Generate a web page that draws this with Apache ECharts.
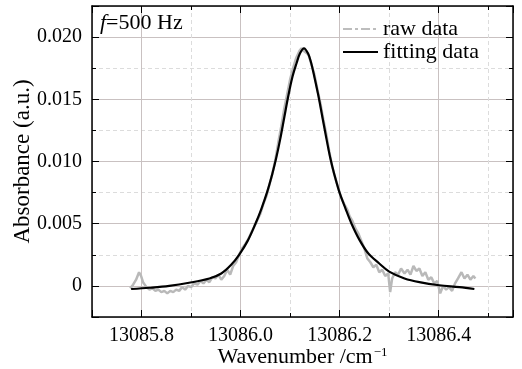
<!DOCTYPE html>
<html>
<head>
<meta charset="UTF-8" />
<title>Absorbance f=500 Hz</title>
<script src="https://cdn.jsdelivr.net/npm/echarts@6/dist/echarts.min.js"></script>
<style>
  html, body { margin: 0; padding: 0; background: #fff; }
  #main { width: 522px; height: 369px; }
</style>
</head>
<body>
<div id="main"></div>
<script>
var rawX = [
  13085.777, 13085.783, 13085.789, 13085.795, 13085.799, 13085.803, 13085.810, 13085.816, 13085.822, 13085.828,
  13085.834, 13085.840, 13085.846, 13085.852, 13085.858, 13085.864, 13085.870, 13085.876, 13085.882, 13085.888,
  13085.894, 13085.900, 13085.906, 13085.913, 13085.919, 13085.925, 13085.931, 13085.937, 13085.943, 13085.949,
  13085.955, 13085.961, 13085.967, 13085.973, 13085.979, 13085.985, 13085.991, 13085.997, 13086.003, 13086.010,
  13086.016, 13086.022, 13086.028, 13086.034, 13086.040, 13086.046, 13086.052, 13086.058, 13086.064, 13086.070,
  13086.076, 13086.082, 13086.088, 13086.094, 13086.100, 13086.106, 13086.112, 13086.119, 13086.123, 13086.127,
  13086.131, 13086.137, 13086.143, 13086.149, 13086.155, 13086.161, 13086.167, 13086.173, 13086.179, 13086.185,
  13086.191, 13086.197, 13086.203, 13086.209, 13086.216, 13086.220, 13086.226, 13086.232, 13086.238, 13086.244,
  13086.250, 13086.256, 13086.262, 13086.268, 13086.274, 13086.280, 13086.286, 13086.292, 13086.298, 13086.302,
  13086.306, 13086.312, 13086.318, 13086.324, 13086.331, 13086.337, 13086.343, 13086.349, 13086.355, 13086.361,
  13086.367, 13086.373, 13086.379, 13086.385, 13086.391, 13086.397, 13086.403, 13086.409, 13086.415, 13086.421,
  13086.427, 13086.433, 13086.439, 13086.446, 13086.452, 13086.458, 13086.464, 13086.470, 13086.474
];
var rawY = [
  -0.0002, 0.0001, 0.0005, 0.0011, 0.0008, 0.0003, -0.0001, -0.0003, -0.0002, -0.0004,
  -0.0003, -0.0005, -0.0004, -0.0006, -0.0004, -0.0005, -0.0003, -0.0004, -0.0001, -0.0003,
  0.0000, -0.0001, 0.0002, 0.0001, 0.0004, 0.0002, 0.0005, 0.0003, 0.0007, 0.0006,
  0.0009, 0.0005, 0.0008, 0.0013, 0.0009, 0.0016, 0.0019, 0.0025, 0.0030, 0.0034,
  0.0038, 0.0043, 0.0048, 0.0053, 0.0058, 0.0066, 0.0072, 0.0081, 0.0090, 0.0101,
  0.0115, 0.0128, 0.0142, 0.0154, 0.0166, 0.0175, 0.0183, 0.0189, 0.0191, 0.0189,
  0.0190, 0.0186, 0.0178, 0.0170, 0.0158, 0.0147, 0.0134, 0.0122, 0.0108, 0.0096,
  0.0087, 0.0079, 0.0071, 0.0066, 0.0061, 0.0056, 0.0052, 0.0046, 0.0042, 0.0036,
  0.0030, 0.0022, 0.0019, 0.0015, 0.0017, 0.0011, 0.0013, 0.0008, 0.0010, -0.0005,
  0.0006, 0.0011, 0.0009, 0.0014, 0.0010, 0.0013, 0.0009, 0.0016, 0.0012, 0.0014,
  0.0008, 0.0011, 0.0005, 0.0007, 0.0002, 0.0004, -0.0006, 0.0000, -0.0003, -0.0001,
  -0.0004, 0.0002, 0.0006, 0.0011, 0.0006, 0.0009, 0.0005, 0.0008, 0.0006
];

// fitted profile
var fitX = [
  13085.779, 13085.816, 13085.856, 13085.896, 13085.937, 13085.961, 13085.981, 13085.997, 13086.014, 13086.030,
  13086.042, 13086.054, 13086.064, 13086.072, 13086.080, 13086.088, 13086.096, 13086.104, 13086.113, 13086.120,
  13086.128, 13086.136, 13086.142, 13086.149, 13086.157, 13086.165, 13086.173, 13086.181, 13086.189,
  13086.199, 13086.212, 13086.224, 13086.240, 13086.258, 13086.280, 13086.300, 13086.331, 13086.361, 13086.401,
  13086.442, 13086.472
];
var fitY = [
  -0.00025, -0.00015, 0.0000, 0.00025, 0.0006, 0.0010, 0.0017, 0.0025, 0.0036, 0.0050,
  0.0062, 0.0076, 0.0090, 0.0103, 0.0118, 0.0135, 0.0152, 0.0167, 0.0179, 0.0187,
  0.0191, 0.0187, 0.0180, 0.0168, 0.0153, 0.0136, 0.0119, 0.0103, 0.0090,
  0.0076, 0.0062, 0.0050, 0.0037, 0.0026, 0.0018, 0.00115, 0.0006, 0.0003, 0.00005,
  -0.0001, -0.00025
];

var FONT = 'Liberation Serif';

function pairs(xs, ys) {
  var out = [];
  for (var i = 0; i < xs.length; i++) out.push([xs[i], ys[i]]);
  return out;
}

var chart = echarts.init(document.getElementById('main'));

// top / right frame axes: line + inward ticks only
var frameAxis = {
  show: true,
  axisLine: { show: true, onZero: false, lineStyle: { color: '#000', width: 1.5 } },
  axisTick: { show: true, inside: true, length: 7, lineStyle: { color: '#000', width: 1 } },
  minorTick: { show: true, splitNumber: 2, length: 4, lineStyle: { color: '#000', width: 1 } },
  axisLabel: { show: false },
  splitLine: { show: false }
};

var option = {
  backgroundColor: '#fff',
  animation: false,
  title: {
    text: '{i|f}{n|=500 Hz}',
    left: 95,
    top: 7,
    textStyle: {
      rich: {
        i: { fontFamily: FONT, fontSize: 22, fontStyle: 'italic', fontWeight: 'normal', color: '#000' },
        n: { fontFamily: FONT, fontSize: 22, fontWeight: 'normal', color: '#000' }
      }
    }
  },
  legend: {
    left: 337,
    top: 13,
    orient: 'vertical',
    itemWidth: 35,
    itemHeight: 10,
    itemGap: 1,
    textStyle: { fontFamily: FONT, fontSize: 22, color: '#000' },
    data: [
      { name: 'raw data', itemStyle: { opacity: 0 }, lineStyle: { type: [9, 3, 3, 3], width: 2, color: '#bdbdbd' } },
      { name: 'fitting data', itemStyle: { opacity: 0 }, lineStyle: { width: 2, color: '#000' } }
    ]
  },
  grid: { left: 92, right: 9, top: 6, bottom: 52, outerBoundsMode: 'none', containLabel: false },
  xAxis: [
    {
      type: 'value',
      min: 13085.7,
      max: 13086.55,
      minInterval: 0.2,
      maxInterval: 0.2,
      name: '{a|Wavenumber /cm}{s|−1}',
      nameLocation: 'middle',
      nameGap: 29,
      nameMoveOverlap: false,
      nameTextStyle: {
        rich: {
          a: { fontFamily: FONT, fontSize: 22, color: '#000', verticalAlign: 'bottom' },
          s: { fontFamily: FONT, fontSize: 13, color: '#000', verticalAlign: 'bottom', padding: [0, 0, 9, 1] }
        }
      },
      axisLine: { show: true, onZero: false, lineStyle: { color: '#000', width: 1.5 } },
      axisTick: { inside: true, length: 7, lineStyle: { color: '#000', width: 1 } },
      minorTick: { show: true, splitNumber: 2, length: 4, lineStyle: { color: '#000', width: 1 } },
      axisLabel: {
        showMinLabel: false,
        showMaxLabel: false,
        margin: 9,
        fontFamily: FONT,
        fontSize: 20,
        color: '#000',
        formatter: function (v) { return v.toFixed(1); }
      },
      splitLine: { show: true, lineStyle: { color: '#c9c1c1', width: 1 } },
      minorSplitLine: { show: true, lineStyle: { color: '#dcdcdc', width: 1, type: [4, 3] } }
    },
    Object.assign({}, frameAxis, {
      type: 'value', position: 'top', min: 13085.7, max: 13086.55, minInterval: 0.2, maxInterval: 0.2
    })
  ],
  yAxis: [
    {
      type: 'value',
      min: -0.0025,
      max: 0.0225,
      minInterval: 0.005,
      maxInterval: 0.005,
      name: 'Absorbance (a.u.)',
      nameLocation: 'middle',
      nameGap: 58,
      nameMoveOverlap: false,
      nameTextStyle: { fontFamily: FONT, fontSize: 23, color: '#000' },
      axisLine: { show: true, onZero: false, lineStyle: { color: '#000', width: 1.5 } },
      axisTick: { inside: true, length: 7, lineStyle: { color: '#000', width: 1 } },
      minorTick: { show: true, splitNumber: 2, length: 4, lineStyle: { color: '#000', width: 1 } },
      axisLabel: {
        showMinLabel: false,
        showMaxLabel: false,
        margin: 10,
        fontFamily: FONT,
        fontSize: 20,
        color: '#000',
        formatter: function (v) { return Math.abs(v) < 1e-9 ? '0' : v.toFixed(3); }
      },
      splitLine: { show: true, lineStyle: { color: '#c9c1c1', width: 1 } },
      minorSplitLine: { show: true, lineStyle: { color: '#dcdcdc', width: 1, type: [4, 3] } }
    },
    Object.assign({}, frameAxis, {
      type: 'value', position: 'right', min: -0.0025, max: 0.0225, minInterval: 0.005, maxInterval: 0.005
    })
  ],
  series: [
    {
      name: 'raw data',
      type: 'line',
      data: pairs(rawX, rawY),
      showSymbol: false,
      symbol: 'none',
      lineStyle: { color: '#b9b9b9', width: 2.5 },
      itemStyle: { color: '#b9b9b9' },
      z: 2
    },
    {
      name: 'fitting data',
      type: 'line',
      data: pairs(fitX, fitY),
      smooth: 0.35,
      showSymbol: false,
      symbol: 'none',
      lineStyle: { color: '#000', width: 2.2 },
      itemStyle: { color: '#000' },
      z: 3
    }
  ]
};

chart.setOption(option);
</script>
</body>
</html>
